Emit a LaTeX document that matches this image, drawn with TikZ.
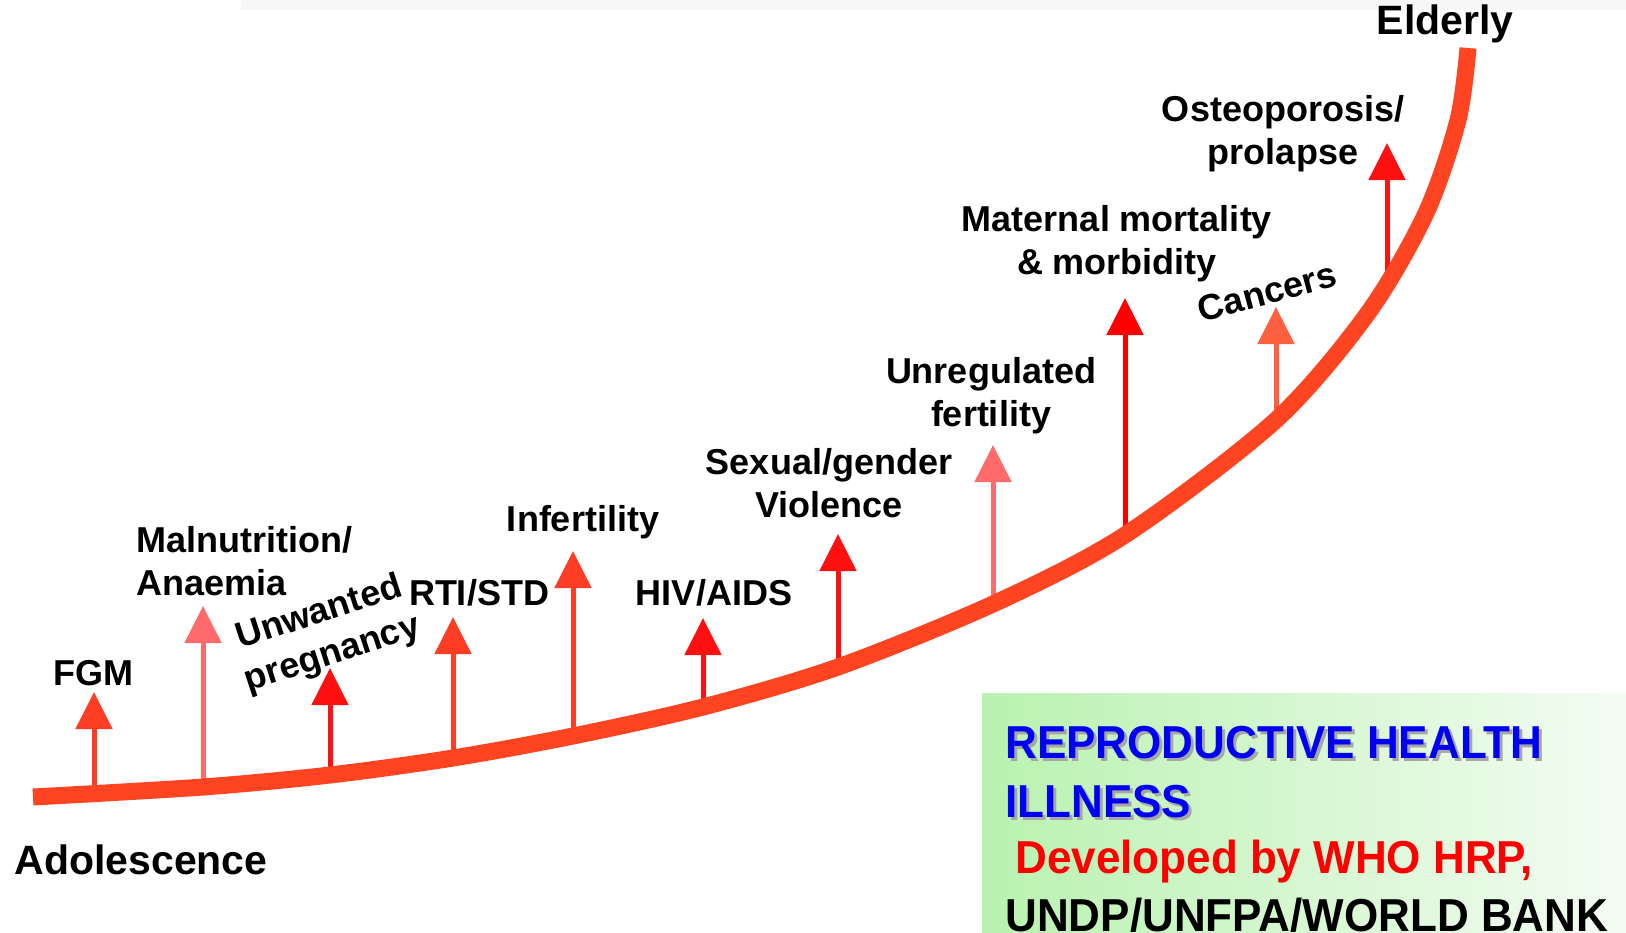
\documentclass[tikz,border=0pt]{standalone}
\usepackage{fontspec}
\setmainfont{Liberation Sans}
\usepackage{graphicx}
\usetikzlibrary{arrows.meta}

\definecolor{curvered}{HTML}{FF4422}
\definecolor{arrowred}{HTML}{FF1010}
\definecolor{arroworange}{HTML}{FF3C24}
\definecolor{arrowsalmon}{HTML}{FF6A6A}
\definecolor{arrowcoral}{HTML}{FF6040}
\definecolor{titleblue}{HTML}{0000F4}
\definecolor{boxgreen}{HTML}{B9F2B0}
\definecolor{boxwhite}{HTML}{F4FCF3}
\definecolor{topband}{HTML}{F7F7F7}

\newcommand{\tallline}[1]{\scalebox{1}[1.05]{#1}}

\begin{document}
\begin{tikzpicture}[x=0.5pt, y=-0.5pt,
    risklabel/.style={font=\bfseries\fontsize{18}{21.5}\selectfont, align=center, inner sep=0pt},
    stage/.style={font=\bfseries\fontsize{20.5}{24}\selectfont, inner sep=0pt},
    riskarrow/.style={line width=2.5pt, -{Triangle[width=18pt, length=18.5pt]}},
    lifecurve/.style={line width=8.5pt, curvered, line cap=butt},
    boxtext/.style={font=\bfseries\fontsize{22}{29}\selectfont, anchor=base west, inner sep=0pt}
]
\useasboundingbox (0,0) rectangle (1626,932);

% Background
\fill[topband] (241,0) rectangle (1626,10);
\shade[left color=boxgreen, right color=boxwhite] (982,693) rectangle (1626,932);

% Stages
\node[stage] (adolescence) at (141,860) {Adolescence};
\node[stage] (elderly) at (1445,24) {Elderly};

% Labels
\node[risklabel] (fgm) at (93,673) {FGM};
\node[risklabel, align=left, anchor=west] (malnutrition) at (136,561) {Malnutrition/\\Anaemia};
\node[risklabel, rotate=18] (unwanted) at (326,634) {Unwanted\\pregnancy};
\node[risklabel] (rti) at (479,593) {RTI/STD};
\node[risklabel] (infertility) at (583,522) {Infertility};
\node[risklabel] (hiv) at (714,593) {HIV/AIDS};
\node[risklabel] (violence) at (829,483) {Sexual/gender\\Violence};
\node[risklabel] (unregulated) at (991,396) {Unregulated\\fertility};
\node[risklabel] (maternal) at (1117,244) {Maternal mortality\\\& morbidity};
\node[risklabel, rotate=15] (cancers) at (1267,292) {Cancers};
\node[risklabel] (osteoporosis) at (1283,134) {Osteoporosis/\\prolapse};

% Arrow ends
\coordinate (fgm-base) at (94,787);
\coordinate (fgm-tip) at (94,692);
\coordinate (malnutrition-base) at (203,782);
\coordinate (malnutrition-tip) at (203,606);
\coordinate (unwanted-base) at (330,770);
\coordinate (unwanted-tip) at (330,668);
\coordinate (rti-base) at (453,755);
\coordinate (rti-tip) at (453,617);
\coordinate (infertility-base) at (573,733);
\coordinate (infertility-tip) at (573,551);
\coordinate (hiv-base) at (703,703);
\coordinate (hiv-tip) at (703,618);
\coordinate (violence-base) at (838,663);
\coordinate (violence-tip) at (838,534);
\coordinate (unregulated-base) at (993,601);
\coordinate (unregulated-tip) at (993,445);
\coordinate (maternal-base) at (1125,531);
\coordinate (maternal-tip) at (1125,298);
\coordinate (cancers-base) at (1276,417);
\coordinate (cancers-tip) at (1276,307);
\coordinate (osteoporosis-base) at (1387,285);
\coordinate (osteoporosis-tip) at (1387,143);

% Arrows
\draw[riskarrow, arroworange] (fgm-base) -- (fgm-tip);
\draw[riskarrow, arrowsalmon] (malnutrition-base) -- (malnutrition-tip);
\draw[riskarrow, arrowred] (unwanted-base) -- (unwanted-tip);
\draw[riskarrow, arroworange] (rti-base) -- (rti-tip);
\draw[riskarrow, arroworange] (infertility-base) -- (infertility-tip);
\draw[riskarrow, arrowred] (hiv-base) -- (hiv-tip);
\draw[riskarrow, arrowred] (violence-base) -- (violence-tip);
\draw[riskarrow, arrowsalmon] (unregulated-base) -- (unregulated-tip);
\draw[riskarrow, red] (maternal-base) -- (maternal-tip);
\draw[riskarrow, arrowcoral] (cancers-base) -- (cancers-tip);
\draw[riskarrow, arrowred] (osteoporosis-base) -- (osteoporosis-tip);

% Life course curve
\draw[lifecurve] plot[smooth] coordinates {(33,797) (203,787) (330,775) (453,758) (573,736) (703,707) (838,667) (993,604) (1125,535) (1276,420) (1368,313) (1426,213) (1458,120) (1468,48)};

% Title box text
\node[boxtext, gray!70] (title-shadow) at (1008,761) {\tallline{REPRODUCTIVE HEALTH}};
\node[boxtext, gray!70] (illness-shadow) at (1008,820) {\tallline{ILLNESS}};
\node[boxtext, titleblue] (title) at (1005,758) {\tallline{REPRODUCTIVE HEALTH}};
\node[boxtext, titleblue] (illness) at (1005,817) {\tallline{ILLNESS}};
\node[boxtext, red] (developed) at (1015,873) {\tallline{Developed by WHO HRP,}};
\node[boxtext, black] (agencies) at (1005,931) {\tallline{UNDP/UNFPA/WORLD BANK}};

\end{tikzpicture}
\end{document}
